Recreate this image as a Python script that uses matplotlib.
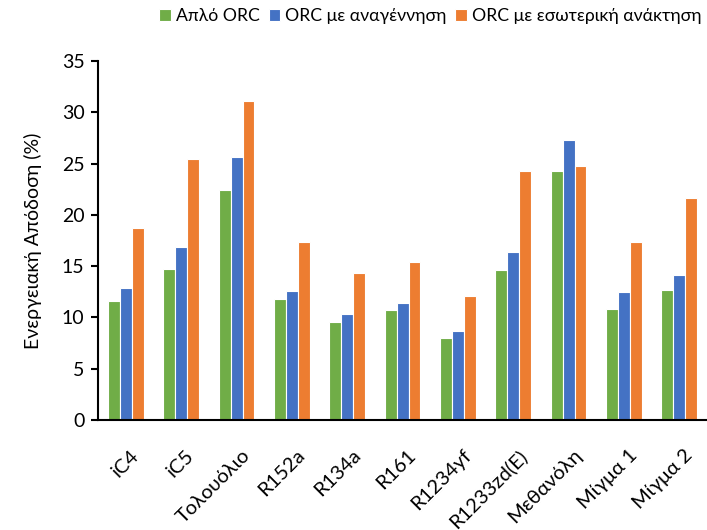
import numpy as np
import matplotlib.pyplot as plt

plt.rcParams['font.family'] = ['Lato', 'DejaVu Sans']

fluids = ['iC4', 'iC5', 'Τολουόλιο', 'R152a', 'R134a', 'R161', 'R1234yf',
          'R1233zd(E)', 'Μεθανόλη', 'Μίγμα 1', 'Μίγμα 2']
simple_orc = [11.6, 14.7, 22.4, 11.8, 9.6, 10.7, 8.0, 14.6, 24.3, 10.8, 12.7]
regen_orc = [12.9, 16.9, 25.6, 12.6, 10.3, 11.4, 8.7, 16.4, 27.3, 12.5, 14.1]
internal_orc = [18.7, 25.4, 31.1, 17.4, 14.3, 15.4, 12.1, 24.3, 24.8, 17.4, 21.6]

series = [
    ('Απλό ORC', simple_orc, '#70ad47'),
    ('ORC με αναγέννηση', regen_orc, '#4472c4'),
    ('ORC με εσωτερική ανάκτηση', internal_orc, '#ed7d31'),
]

fig = plt.figure(figsize=(7.07, 5.30), dpi=100)
ax = fig.add_axes([0.139, 0.2075, 0.861, 0.6775])

x = np.arange(len(fluids))
w = 0.215
for i, (name, vals, col) in enumerate(series):
    ax.bar(x + (i - 1) * w, vals, w, color=col, edgecolor='white',
           linewidth=0.8, label=name)

ax.set_xlim(-0.5, len(fluids) - 0.5)
ax.set_ylim(0, 35)
ax.set_yticks(range(0, 36, 5))
ax.set_xticks(x + 0.08)
ax.set_xticklabels(fluids, rotation=45, ha='right', rotation_mode='anchor',
                   fontsize=14.5)
ax.tick_params(axis='x', length=0, pad=19)
ax.tick_params(axis='y', labelsize=14, length=5, width=1.5, direction='out',
               pad=5)
ax.set_ylabel('Ενεργειακή Απόδοση (%)', fontsize=14, labelpad=14)

for s in ['top', 'right']:
    ax.spines[s].set_visible(False)
for s in ['left', 'bottom']:
    ax.spines[s].set_linewidth(1.5)

fig.legend(loc='upper right', bbox_to_anchor=(1.0, 0.995), ncol=3,
           frameon=False, fontsize=12.7, handlelength=0.65, handleheight=0.65,
           handletextpad=0.3, columnspacing=0.5, borderaxespad=0.0,
           borderpad=0.3)

fig.savefig('out.png', dpi=100)
